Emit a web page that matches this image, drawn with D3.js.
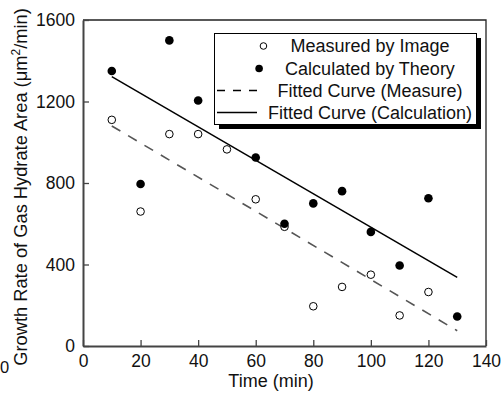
<!DOCTYPE html>
<html>
<head>
<meta charset="utf-8">
<script src="https://cdn.jsdelivr.net/npm/d3@7"></script>
<style>
  body { margin: 0; background: #fff; }
  svg { display: block; font-family: "Liberation Sans", Arial, sans-serif; }
</style>
</head>
<body>
<div id="chart"></div>
<script>
// data
var measuredTime = [10, 20, 30, 40, 50, 60, 70, 80, 90, 100, 110, 120];
var measuredRate = [1110, 660, 1040, 1040, 965, 720, 585, 195, 290, 350, 150, 265];
var calcTime = [10, 20, 30, 40, 60, 70, 80, 90, 100, 110, 120, 130];
var calcRate = [1350, 795, 1500, 1205, 925, 600, 700, 760, 560, 395, 725, 145];
var fitTime = [10, 130];
var fitMeasure = [1080, 75];
var fitCalc = [1322, 337];
var xTicks = [0, 20, 40, 60, 80, 100, 120, 140];
var yTicks = [0, 400, 800, 1200, 1600];
var legendLabels = ["Measured by Image", "Calculated by Theory", "Fitted Curve (Measure)", "Fitted Curve (Calculation)"];

var svgWidth = 503;
var svgHeight = 394;
var margin = { top: 20, right: 17, bottom: 48, left: 83 };
var width = svgWidth - margin.left - margin.right;
var height = svgHeight - margin.top - margin.bottom;

var svg = d3.select("#chart")
    .append("svg")
    .attr("width", svgWidth)
    .attr("height", svgHeight);

var g = svg.append("g")
    .attr("transform", `translate(${margin.left}, ${margin.top})`);

var x = d3.scaleLinear().domain([0, 140]).range([0, width]);
var y = d3.scaleLinear().domain([0, 1600]).range([height, 0]);

// frame (top + right)
g.append("path")
    .attr("d", `M0,0H${width}V${height}`)
    .attr("fill", "none")
    .attr("stroke", "#222")
    .attr("stroke-width", 1.3);

var xAxis = g.append("g")
    .attr("transform", `translate(0, ${height})`)
    .call(d3.axisBottom(x).tickValues(xTicks).tickFormat(d3.format("d"))
        .tickSizeInner(-6).tickSizeOuter(0).tickPadding(9));

var yAxis = g.append("g")
    .call(d3.axisLeft(y).tickValues(yTicks).tickFormat(d3.format("d"))
        .tickSizeInner(-6).tickSizeOuter(0).tickPadding(8));

[xAxis, yAxis].forEach(function(a) {
    a.select(".domain").attr("stroke", "#444").attr("stroke-width", 2);
    a.selectAll(".tick line").attr("stroke", "#444").attr("stroke-width", 1.3);
    a.selectAll(".tick text")
        .attr("font-size", 17.5)
        .attr("font-family", "Liberation Sans, Arial, sans-serif")
        .attr("fill", "#111");
});

// fitted lines
var line = d3.line()
    .x(function(d) { return x(d[0]); })
    .y(function(d) { return y(d[1]); });

g.append("path")
    .datum(d3.zip(fitTime, fitMeasure))
    .attr("d", line)
    .attr("fill", "none")
    .attr("stroke", "#555")
    .attr("stroke-width", 1.6)
    .attr("stroke-dasharray", "10,9");

g.append("path")
    .datum(d3.zip(fitTime, fitCalc))
    .attr("d", line)
    .attr("fill", "none")
    .attr("stroke", "#000")
    .attr("stroke-width", 1.5);

// points
g.selectAll(".meas")
    .data(d3.zip(measuredTime, measuredRate))
    .enter()
    .append("circle")
    .attr("cx", function(d) { return x(d[0]); })
    .attr("cy", function(d) { return y(d[1]); })
    .attr("r", 3.8)
    .attr("fill", "#fff")
    .attr("stroke", "#000")
    .attr("stroke-width", 1);

g.selectAll(".calc")
    .data(d3.zip(calcTime, calcRate))
    .enter()
    .append("circle")
    .attr("cx", function(d) { return x(d[0]); })
    .attr("cy", function(d) { return y(d[1]); })
    .attr("r", 4.3)
    .attr("fill", "#000");

// axis titles
svg.append("text")
    .attr("x", 271)
    .attr("y", 387)
    .attr("text-anchor", "middle")
    .attr("font-size", 18)
    .attr("fill", "#111")
    .text("Time (min)");

var yt = svg.append("text")
    .attr("transform", "translate(27, 187) rotate(-90)")
    .attr("text-anchor", "middle")
    .attr("font-size", 18.3)
    .attr("fill", "#111");
yt.append("tspan").text("Growth Rate of Gas Hydrate Area (\u03bcm");
yt.append("tspan").attr("dy", -7).attr("font-size", 12).text("2");
yt.append("tspan").attr("dy", 7).text("/min)");

// stray label at the left edge
svg.append("text")
    .attr("x", 0)
    .attr("y", 373)
    .attr("font-size", 16.5)
    .attr("fill", "#111")
    .text("0");

// legend
var leg = svg.append("g");
leg.append("rect")
    .attr("x", 219).attr("y", 38)
    .attr("width", 262).attr("height", 91)
    .attr("fill", "#000");
leg.append("rect")
    .attr("x", 214.5).attr("y", 33.5)
    .attr("width", 262).attr("height", 91)
    .attr("fill", "#fff")
    .attr("stroke", "#000")
    .attr("stroke-width", 1);

var rowY = [46, 68.5, 90.5, 112.5];
legendLabels.forEach(function(label, i) {
    var t = leg.append("text")
        .attr("x", 370)
        .attr("y", rowY[i])
        .attr("dy", "0.35em")
        .attr("text-anchor", "middle")
        .attr("font-size", 18)
        .attr("fill", "#111")
        .text(label);
    var start = 370 - t.node().getComputedTextLength() / 2;
    if (i == 0) {
        leg.append("circle").attr("cx", start - 27).attr("cy", rowY[i]).attr("r", 3.3)
            .attr("fill", "#fff").attr("stroke", "#000").attr("stroke-width", 1);
    } else if (i == 1) {
        leg.append("circle").attr("cx", start - 26).attr("cy", rowY[i]).attr("r", 3.8)
            .attr("fill", "#000");
    } else if (i == 2) {
        leg.append("line").attr("x1", 217).attr("x2", 262).attr("y1", rowY[i]).attr("y2", rowY[i])
            .attr("stroke", "#000").attr("stroke-width", 1.5).attr("stroke-dasharray", "8,8");
    } else {
        leg.append("line").attr("x1", 217).attr("x2", 257).attr("y1", rowY[i]).attr("y2", rowY[i])
            .attr("stroke", "#000").attr("stroke-width", 1.5);
    }
});
</script>
</body>
</html>
